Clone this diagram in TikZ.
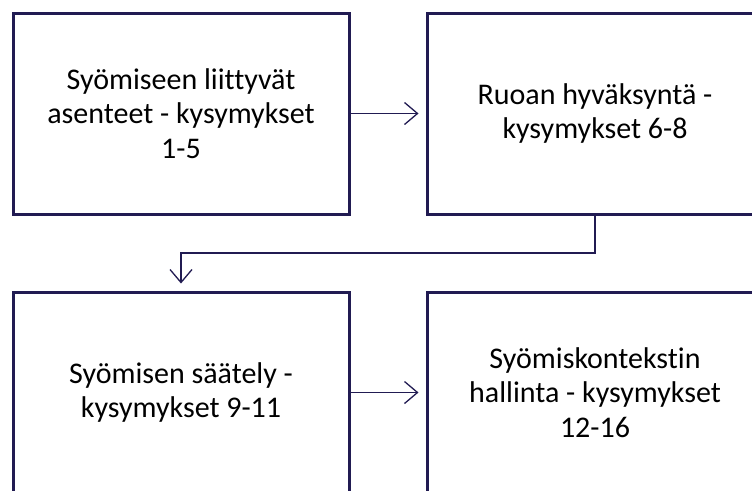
\documentclass[tikz,border=0pt]{standalone}
\usepackage{fontspec}
\setmainfont[Ligatures=NoCommon]{Carlito}
\usetikzlibrary{arrows.meta,calc}
\definecolor{boxline}{RGB}{33,27,82}
\begin{document}
\begin{tikzpicture}[x=1pt,y=1pt,
  stepbox/.style={draw=boxline,line width=3pt,minimum width=336pt,minimum height=201pt,
    align=center,inner sep=0pt,font=\fontsize{30}{34.5}\selectfont},
  conn/.style={draw=boxline,line width=1.3pt,shorten >=7pt,
    -{Straight Barb[length=13pt,width=22pt,line width=1.3pt]}}]
\clip (0,0) rectangle (752,-490);
\useasboundingbox (0,0) rectangle (752,-490);
\node[stepbox] (a) at (181,-113.5) {Syömiseen liittyvät\\asenteet - kysymykset\\1-5};
\node[stepbox] (b) at (595,-113.5) {Ruoan hyväksyntä -\\kysymykset 6-8};
\node[stepbox] (c) at (181,-392.5) {Syömisen säätely -\\kysymykset 9-11};
\node[stepbox] (d) at (595,-392.5) {Syömiskontekstin\\hallinta - kysymykset\\12-16};
\coordinate (m) at ($(b.south)!0.5!(c.north)$);
\draw[conn] (a.east) -- (b.west);
\draw[conn] (c.east) -- (d.west);
\draw[conn] (b.south) |- (m) -| (c.north);
\end{tikzpicture}
\end{document}
